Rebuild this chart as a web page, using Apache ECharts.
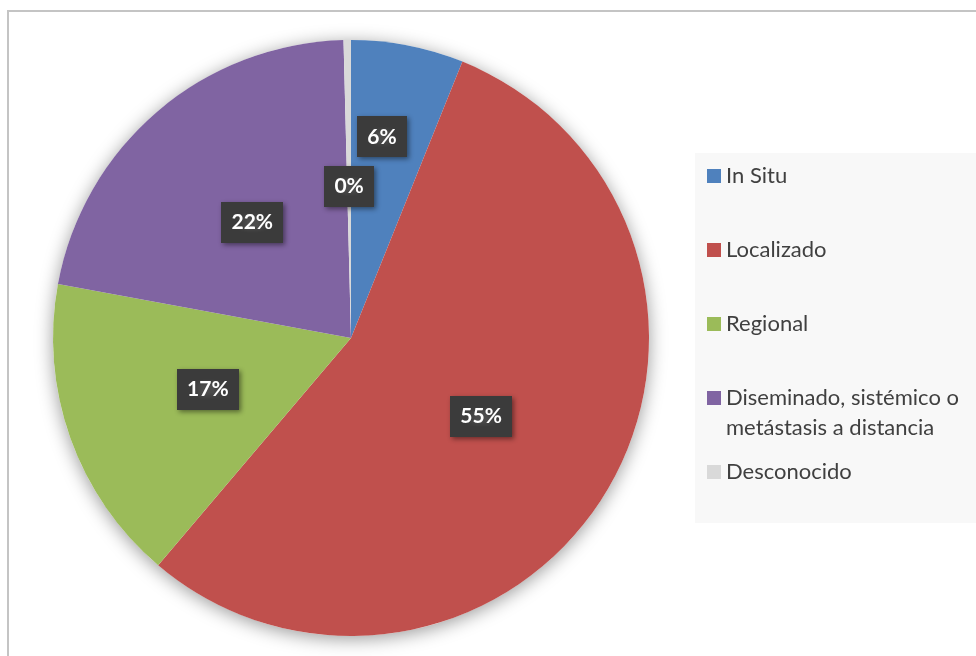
<!DOCTYPE html>
<html>
<head>
<meta charset="utf-8">
<script src="https://cdn.jsdelivr.net/npm/echarts@6/dist/echarts.min.js"></script>
<style>
html,body{margin:0;padding:0;background:#fff;}
#chart{width:976px;height:656px;}
</style>
</head>
<body>
<div id="chart"></div>
<script>
const categories = ['In Situ', 'Localizado', 'Regional', 'Diseminado, sistémico o metástasis a distancia', 'Desconocido'];
const values = [6.1, 55.1, 16.7, 21.7, 0.4];
const colors = ['#4f81bd', '#c0504d', '#9bbb59', '#8064a2', '#d9d9d9'];

// dotted texture for the data label boxes
const tex = document.createElement('canvas');
tex.width = 6; tex.height = 6;
const tctx = tex.getContext('2d');
tctx.fillStyle = '#3b3b3b';
tctx.fillRect(0, 0, 6, 6);
tctx.fillStyle = '#4c4c4c';
tctx.fillRect(2, 2, 2, 2);

const chart = echarts.init(document.getElementById('chart'), null, {renderer: 'canvas'});
const FONT = 'Lato, "Open Sans", sans-serif';
const legendText = {fontSize: 22, color: '#404040', fontFamily: FONT, lineHeight: 30};

chart.setOption({
  animation: false,
  backgroundColor: '#ffffff',
  color: colors,
  graphic: [
    {type: 'rect', z: 0, shape: {x: 8, y: 11, width: 2000, height: 2000}, style: {fill: 'none', stroke: '#c4c4c4', lineWidth: 2}, silent: true},
    {type: 'rect', z: 0, shape: {x: 695, y: 153, width: 300, height: 370}, style: {fill: '#f8f8f8'}, silent: true}
  ],
  legend: [
    {
      orient: 'vertical', left: 707, top: 161, padding: 0, itemGap: 44,
      itemWidth: 14, itemHeight: 14, icon: 'rect', selectedMode: false,
      data: categories.slice(0, 3), textStyle: legendText
    },
    {
      orient: 'vertical', left: 707, top: 353, padding: 0,
      itemWidth: 14, itemHeight: 14, icon: 'rect', selectedMode: false,
      data: [categories[3]],
      formatter: function (n) { return '{e| }\n{t|' + n.replace(' metástasis', '}\n{t|metástasis') + '}'; },
      textStyle: Object.assign({}, legendText, {
        rich: {
          e: {fontSize: 22, lineHeight: 30, fontFamily: FONT},
          t: {fontSize: 22, lineHeight: 30, fontFamily: FONT, color: '#404040'}
        }
      })
    },
    {
      orient: 'vertical', left: 707, top: 457, padding: 0,
      itemWidth: 14, itemHeight: 14, icon: 'rect', selectedMode: false,
      data: [categories[4]], textStyle: legendText
    }
  ],
  series: [
    {
      name: 'sombra', type: 'pie', center: [351, 338], radius: 298, z: 1,
      silent: true, label: {show: false}, labelLine: {show: false},
      data: [{value: 1, name: '_bg', itemStyle: {color: '#ffffff', shadowBlur: 18, shadowColor: 'rgba(0,0,0,0.4)', shadowOffsetY: 3}}]
    },
    {
      name: 'Estadio', type: 'pie', center: [351, 338], radius: 298, z: 2,
      startAngle: 90, clockwise: true, silent: true,
      itemStyle: {borderWidth: 0},
      labelLine: {show: false},
      label: {
        show: true, position: 'inside',
        formatter: function (p) { return Math.round(p.percent) + '%'; },
        color: '#ffffff', fontSize: 21, fontWeight: 'bold', fontFamily: FONT,
        backgroundColor: {image: tex, repeat: 'repeat'},
        padding: [10, 10, 10, 10],
        shadowBlur: 5, shadowOffsetX: 2, shadowOffsetY: 2, shadowColor: 'rgba(0,0,0,0.45)',
        textShadowBlur: 0
      },
      labelLayout: function (p) {
        if (p.dataIndex === 0) return {dy: -52, dx: 2};
        return {};
      },
      data: categories.map(function (c, i) { return {name: c, value: values[i]}; })
    }
  ]
});
</script>
</body>
</html>
